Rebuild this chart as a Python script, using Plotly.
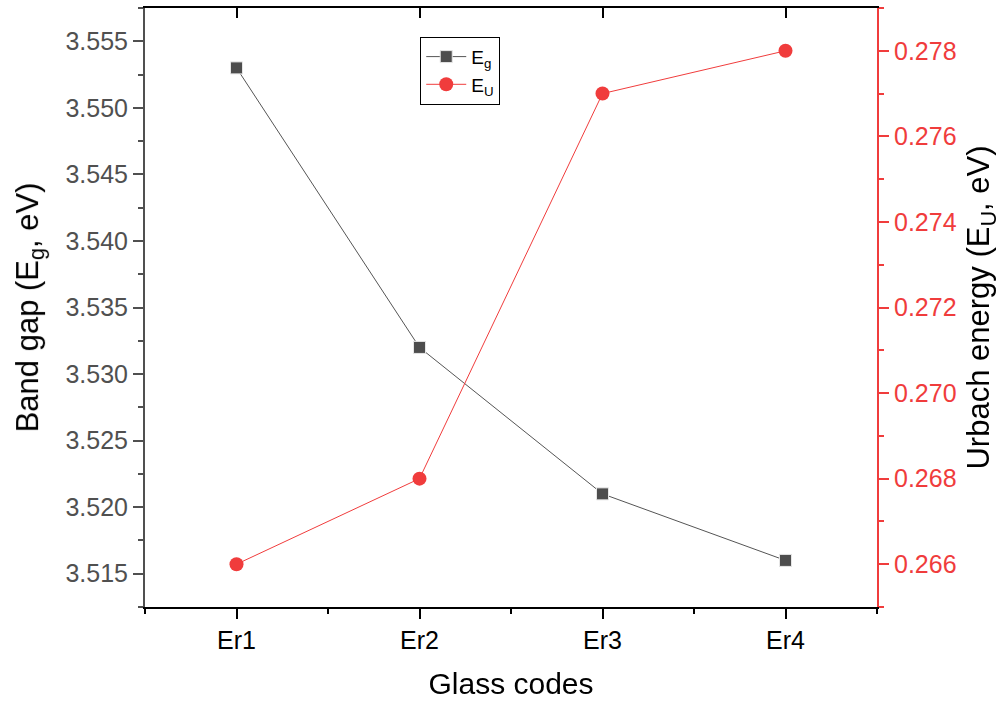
import plotly.graph_objects as go

# Glass sample codes and measured optical parameters
glass_codes = ["Er1", "Er2", "Er3", "Er4"]
band_gap_eg = [3.553, 3.532, 3.521, 3.516]      # eV
urbach_eu = [0.266, 0.268, 0.277, 0.278]         # eV

positions = list(range(1, len(glass_codes) + 1))

FONT = "Liberation Sans, Arial, sans-serif"
GRAY = "#4d4d4d"
RED = "#f03c3c"

fig = go.Figure()

fig.add_trace(go.Scatter(
    x=positions, y=band_gap_eg, name="E<sub>g</sub>",
    mode="lines+markers",
    line=dict(color="#555555", width=1),
    marker=dict(symbol="square", size=12, color=GRAY,
                line=dict(color="#e6e6e6", width=1)),
    xaxis="x", yaxis="y",
))

fig.add_trace(go.Scatter(
    x=positions, y=urbach_eu, name="E<sub>U</sub>",
    mode="lines+markers",
    line=dict(color=RED, width=1),
    marker=dict(symbol="circle", size=14, color=RED),
    xaxis="x", yaxis="y2",
))

# invisible companion trace so the top mirror axis is drawn
fig.add_trace(go.Scatter(
    x=positions, y=band_gap_eg, mode="markers", opacity=0,
    showlegend=False, hoverinfo="skip", xaxis="x2", yaxis="y",
))

x_range = [0.5, len(glass_codes) + 0.5]

fig.update_layout(
    width=1001, height=704,
    margin=dict(l=145, r=124, t=8, b=97, autoexpand=False),
    paper_bgcolor="white", plot_bgcolor="white",
    font=dict(family=FONT, color="black"),
    showlegend=True,
    legend=dict(
        x=0.376, y=0.952, xanchor="left", yanchor="top",
        bgcolor="white", bordercolor="black", borderwidth=1,
        font=dict(size=19, family=FONT, color="black"),
        itemwidth=40, tracegroupgap=0,
    ),
    xaxis=dict(
        range=x_range, tickmode="array", tickvals=positions, ticktext=glass_codes,
        showline=True, linecolor="black", linewidth=2,
        ticks="outside", ticklen=10, tickwidth=2, tickcolor="black",
        minor=dict(tickmode="linear", tick0=0.5, dtick=1, ticks="outside",
                   ticklen=5, tickwidth=2, tickcolor="black"),
        tickfont=dict(size=25, color="black"),
        showgrid=False, zeroline=False,
        title=dict(text="Glass codes", font=dict(size=30, color="black"), standoff=20),
    ),
    xaxis2=dict(
        overlaying="x", side="top", range=x_range,
        tickmode="array", tickvals=positions, showticklabels=False,
        showline=True, linecolor="black", linewidth=2,
        ticks="inside", ticklen=10, tickwidth=2, tickcolor="black",
        showgrid=False, zeroline=False,
    ),
    yaxis=dict(
        range=[3.5125, 3.5575], tick0=3.515, dtick=0.005, tickformat=".3f",
        showline=True, linecolor="#505050", linewidth=2,
        ticks="outside", ticklen=10, tickwidth=2, tickcolor="#505050",
        minor=dict(dtick=0.0025, ticks="outside", ticklen=5, tickwidth=2,
                   tickcolor="#505050"),
        tickfont=dict(size=25, color="#505050"),
        showgrid=False, zeroline=False,
        title=dict(text="Band gap (E<sub>g</sub>, eV)",
                   font=dict(size=31, color="black"), standoff=18),
    ),
    yaxis2=dict(
        overlaying="y", side="right", anchor="x",
        range=[0.265, 0.279], tick0=0.266, dtick=0.002, tickformat=".3f",
        showline=True, linecolor=RED, linewidth=2,
        ticks="outside", ticklen=10, tickwidth=2, tickcolor=RED,
        minor=dict(dtick=0.001, ticks="outside", ticklen=5, tickwidth=2,
                   tickcolor=RED),
        tickfont=dict(size=25, color=RED),
        showgrid=False, zeroline=False,
        title=dict(text="Urbach energy (E<sub>U</sub>, eV)",
                   font=dict(size=31, color="black"), standoff=18),
    ),
)

fig.write_html("out.html")
